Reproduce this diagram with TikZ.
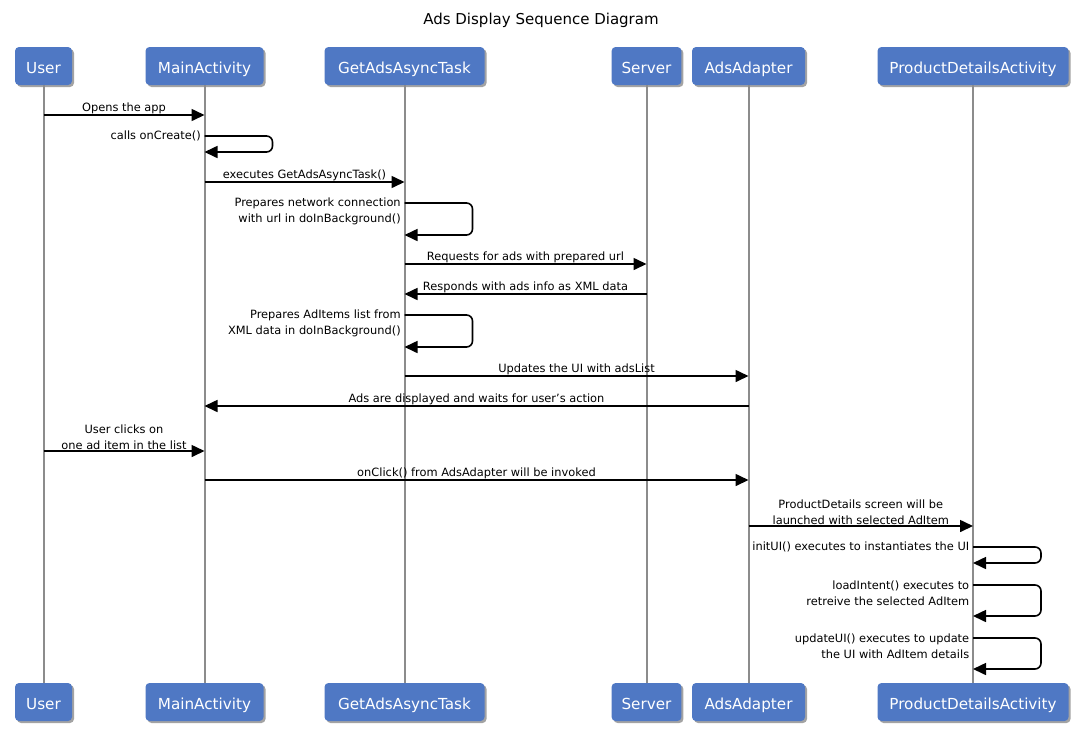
\documentclass[tikz,border=0pt]{standalone}
\usepackage{fontspec}
\setmainfont{DejaVu Sans}
\usetikzlibrary{arrows.meta,shadows}

\definecolor{boxblue}{RGB}{79,120,196}
\definecolor{lifegray}{RGB}{140,140,140}

\tikzset{
    actor/.style={draw=none, fill=boxblue, text=white, rounded corners=4pt,
        minimum height=38pt, inner xsep=10pt, text height=15pt, text depth=0pt,
        font=\fontsize{15.2}{17}\selectfont,
        drop shadow={shadow xshift=2pt, shadow yshift=-2pt, fill=black!45, opacity=0.8}},
    lifeline/.style={draw=lifegray, line width=2pt},
    msg/.style={draw=black, line width=1.6pt, -{Triangle[length=13pt,width=12pt]}},
    selfmsg/.style={msg, rounded corners=6pt},
    msglabel/.style={midway, above, inner sep=0.5pt, align=center,
        font=\fontsize{11.4}{16}\selectfont},
    selflabel/.style={anchor=east, xshift=-3pt, inner sep=0pt, align=right,
        font=\fontsize{11.4}{16}\selectfont}
}

\begin{document}
\begin{tikzpicture}[x=1pt, y=-1pt]
    \useasboundingbox (0, 0) rectangle (1083, 745);

    \node[font=\fontsize{15}{17}\selectfont] (title) at (541, 20) {Ads Display Sequence Diagram};

    \begin{scope}[every node/.style={actor}]
        \node[minimum width=57pt] (T_1) at (43.5, 66) {User};
        \node[minimum width=118pt] (T_2) at (204.5, 66) {MainActivity};
        \node[minimum width=160pt] (T_3) at (404.5, 66) {GetAdsAsyncTask};
        \node[minimum width=68pt] (T_4) at (646.5, 66) {Server};
        \node[minimum width=113pt] (T_5) at (748.5, 66) {AdsAdapter};
        \node[minimum width=191pt] (T_6) at (973, 66) {ProductDetailsActivity};

        \node[minimum width=57pt] (B_1) at (43.5, 702) {User};
        \node[minimum width=118pt] (B_2) at (204.5, 702) {MainActivity};
        \node[minimum width=160pt] (B_3) at (404.5, 702) {GetAdsAsyncTask};
        \node[minimum width=68pt] (B_4) at (646.5, 702) {Server};
        \node[minimum width=113pt] (B_5) at (748.5, 702) {AdsAdapter};
        \node[minimum width=191pt] (B_6) at (973, 702) {ProductDetailsActivity};
    \end{scope}

    % lifelines
    \draw[lifeline] (T_1) -- (B_1);
    \draw[lifeline] (T_2) -- (B_2);
    \draw[lifeline] (T_3) -- (B_3);
    \draw[lifeline] (T_4) -- (B_4);
    \draw[lifeline] (T_5) -- (B_5);
    \draw[lifeline] (T_6) -- (B_6);

    % message end points
    \coordinate (M_1a) at (43.5, 115);   \coordinate (M_1b) at (204.5, 115);
    \coordinate (S_2a) at (204.5, 136);  \coordinate (S_2b) at (204.5, 152);
    \coordinate (M_3a) at (204.5, 182);  \coordinate (M_3b) at (404.5, 182);
    \coordinate (S_4a) at (404.5, 203);  \coordinate (S_4b) at (404.5, 235);
    \coordinate (M_5a) at (404.5, 264);  \coordinate (M_5b) at (646.5, 264);
    \coordinate (M_6a) at (646.5, 294);  \coordinate (M_6b) at (404.5, 294);
    \coordinate (S_7a) at (404.5, 315);  \coordinate (S_7b) at (404.5, 347);
    \coordinate (M_8a) at (404.5, 376);  \coordinate (M_8b) at (748.5, 376);
    \coordinate (M_9a) at (748.5, 406);  \coordinate (M_9b) at (204.5, 406);
    \coordinate (M_10a) at (43.5, 451);  \coordinate (M_10b) at (204.5, 451);
    \coordinate (M_11a) at (204.5, 480); \coordinate (M_11b) at (748.5, 480);
    \coordinate (M_12a) at (748.5, 526); \coordinate (M_12b) at (973, 526);
    \coordinate (S_13a) at (973, 547);   \coordinate (S_13b) at (973, 563);
    \coordinate (S_14a) at (973, 585);   \coordinate (S_14b) at (973, 616);
    \coordinate (S_15a) at (973, 638);   \coordinate (S_15b) at (973, 669);

    % messages
    \draw[msg] (M_1a) -- node[msglabel] {Opens the app} (M_1b);
    \draw[selfmsg] (S_2a) node[selflabel] {calls onCreate()} -- ++(68, 0) |- (S_2b);
    \draw[msg] (M_3a) -- node[msglabel] {executes GetAdsAsyncTask()} (M_3b);
    \draw[selfmsg] (S_4a) node[selflabel, yshift=-8pt] {Prepares network connection\\with url in doInBackground()} -- ++(68, 0) |- (S_4b);
    \draw[msg] (M_5a) -- node[msglabel] {Requests for ads with prepared url} (M_5b);
    \draw[msg] (M_6a) -- node[msglabel] {Responds with ads info as XML data} (M_6b);
    \draw[selfmsg] (S_7a) node[selflabel, yshift=-8pt] {Prepares AdItems list from\\XML data in doInBackground()} -- ++(68, 0) |- (S_7b);
    \draw[msg] (M_8a) -- node[msglabel] {Updates the UI with adsList} (M_8b);
    \draw[msg] (M_9a) -- node[msglabel] {Ads are displayed and waits for user's action} (M_9b);
    \draw[msg] (M_10a) -- node[msglabel] {User clicks on\\one ad item in the list} (M_10b);
    \draw[msg] (M_11a) -- node[msglabel] {onClick() from AdsAdapter will be invoked} (M_11b);
    \draw[msg] (M_12a) -- node[msglabel] {ProductDetails screen will be\\launched with selected AdItem} (M_12b);
    \draw[selfmsg] (S_13a) node[selflabel] {initUI() executes to instantiates the UI} -- ++(68, 0) |- (S_13b);
    \draw[selfmsg] (S_14a) node[selflabel, yshift=-8pt] {loadIntent() executes to\\retreive the selected AdItem} -- ++(68, 0) |- (S_14b);
    \draw[selfmsg] (S_15a) node[selflabel, yshift=-8pt] {updateUI() executes to update\\the UI with AdItem details} -- ++(68, 0) |- (S_15b);
\end{tikzpicture}
\end{document}
